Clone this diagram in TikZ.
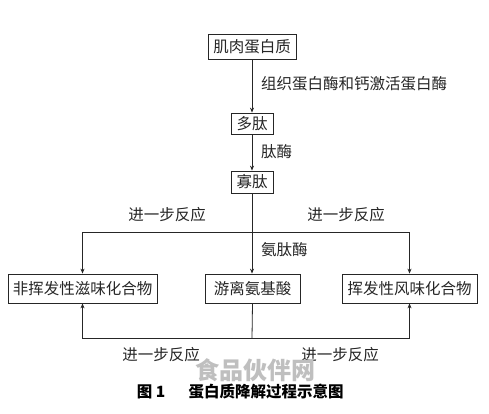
\documentclass[tikz,border=0pt]{standalone}
\usepackage{fontspec}
\setmainfont{Noto Sans CJK SC}
\usetikzlibrary{arrows.meta}
\tikzset{
  box/.style={draw=black!85, line width=0.8pt, inner sep=0pt, font=\fontsize{15.5}{18}\selectfont, text=black!85},
  lbl/.style={font=\fontsize{15.5}{18}\selectfont, text=black!85, inner sep=0pt},
  conn/.style={draw=black!85, line width=0.8pt},
  arr/.style={conn, -{Stealth[length=5pt,width=4pt]}},
}
\begin{document}
\begin{tikzpicture}[x=1pt,y=-1pt]
\useasboundingbox[fill=white] (0,0) rectangle (489,414);
\node[box, minimum width=88pt, minimum height=25pt] (prot) at (252,46.5) {肌肉蛋白质};
\node[box, minimum width=42pt, minimum height=21pt] (poly) at (252,123.5) {多肽};
\node[box, minimum width=42pt, minimum height=22pt] (olig) at (252,182) {寡肽};
\node[box, minimum width=149pt, minimum height=29pt] (left) at (82.5,288.5) {非挥发性滋味化合物};
\node[box, minimum width=95pt, minimum height=29pt] (mid) at (252.5,288.5) {游离氨基酸};
\node[box, minimum width=135pt, minimum height=29pt] (right) at (409.5,288.5) {挥发性风味化合物};
\coordinate (j1) at (252,232);
\coordinate (j2) at (252,338);
\draw[arr] (prot.south) -- (poly.north);
\draw[arr] (poly.south) -- (olig.north);
\draw[conn] (olig.south) -- (j1);
\draw[arr] (j1) -- (j1 |- mid.north);
\draw[arr] (j1) -| (left.north);
\draw[arr] (j1) -| (right.north);
\draw[conn] (mid.south) -- (j2);
\draw[arr] (j2) -| (left.south);
\draw[arr] (j2) -| (right.south);
\node[lbl, anchor=west] (l1) at (261,84) {组织蛋白酶和钙激活蛋白酶};
\node[lbl, anchor=west] (l2) at (261,152) {肽酶};
\node[lbl, anchor=west] (l3) at (261,250) {氨肽酶};
\node[lbl] (r1) at (167,215) {进一步反应};
\node[lbl] (r2) at (346,215) {进一步反应};
\node[lbl] (r3) at (161,355) {进一步反应};
\node[lbl] (r4) at (340,355) {进一步反应};
\node[font=\fontsize{24}{28}\selectfont\bfseries, text=black!25, inner sep=0pt] (wm) at (255,370) {食品伙伴网};
\node[font=\fontsize{15.5}{18}\selectfont\bfseries, inner sep=0pt] (cap1) at (151,392) {图 1};
\node[font=\fontsize{15.5}{18}\selectfont\bfseries, inner sep=0pt] (cap2) at (266,392) {蛋白质降解过程示意图};
\end{tikzpicture}
\end{document}
